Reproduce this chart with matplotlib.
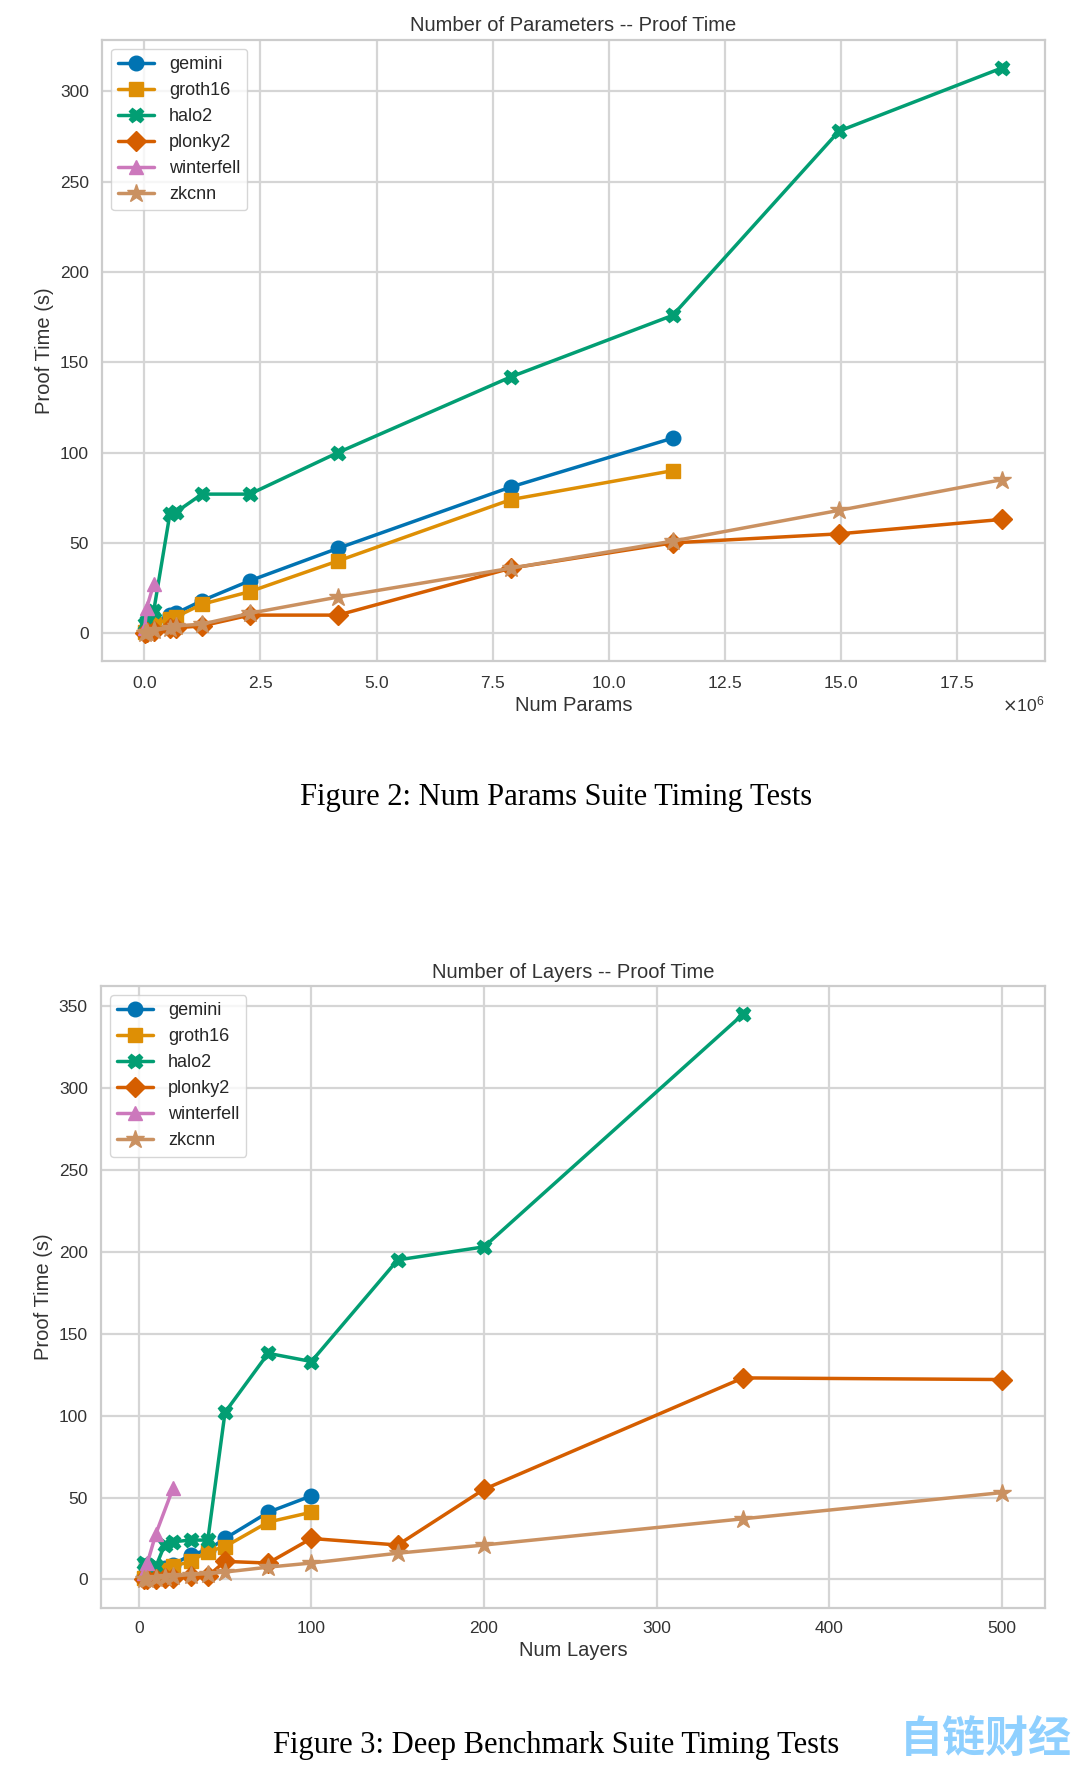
import numpy as np
import matplotlib
matplotlib.use("Agg")
import matplotlib.pyplot as plt
import seaborn as sns

# Num Params suite (x in millions of params)
params = [0.01, 0.05, 0.2, 0.55, 0.68, 1.24, 2.27, 4.17, 7.9, 11.38, 14.96, 18.47]
p_gemini = [1, 3, 6, 10, 11, 18, 29, 47, 81, 108]
p_groth16 = [0.5, 2, 5, 8, 9, 16, 23, 40, 74, 90]
p_halo2 = [5, 7, 12, 66, 67, 77, 77, 100, 142, 176, 278, 313]
p_plonky2 = [0, 0.5, 1, 3, 3, 4, 10, 10, 36, 50, 55, 63]
p_winterfell = [3, 14, 27]
p_zkcnn = [0, 0.5, 1.5, 3, 4, 5, 11, 20, 36, 51, 68, 85]

# Deep benchmark suite
layers = [3, 5, 10, 15, 20, 30, 40, 50, 75, 100, 150, 200, 350, 500]
l_gemini = [2, 3, 5, 7, 9, 15, 18, 25, 41, 51]
l_groth16 = [1, 2, 4, 6, 8, 11, 17, 20, 35, 41]
l_halo2 = [10, 9, 8, 21, 23, 24, 24, 102, 138, 133, 195, 203, 345]
l_plonky2 = [0, 0, 0, 1, 1, 2, 2, 11, 10, 25, 21, 55, 123, 122]
l_winterfell = [4, 10, 28, 56]
l_winterfell_x = [3, 5, 10, 20]
l_zkcnn = [0, 0.5, 1, 1.5, 2, 3, 3.5, 4.5, 7.5, 10, 16, 21, 37, 53]

names = ['gemini', 'groth16', 'halo2', 'plonky2', 'winterfell', 'zkcnn']
markers = ['o', 's', 'X', 'D', '^', '*']

sns.set_theme(style="whitegrid")
plt.rcParams['font.family'] = ['Liberation Sans', 'DejaVu Sans']
colors = sns.color_palette("colorblind")

fig = plt.figure(figsize=(10.8, 17.79), dpi=100)
ax1 = fig.add_axes([0.0944, 0.6282, 0.873, 0.3495])
ax2 = fig.add_axes([0.0935, 0.0963, 0.874, 0.3495])

x1 = np.array(params) * 1e6
series1 = [(x1[:len(p_gemini)], p_gemini), (x1[:len(p_groth16)], p_groth16),
           (x1, p_halo2), (x1, p_plonky2),
           (x1[:len(p_winterfell)], p_winterfell), (x1, p_zkcnn)]
x2 = np.array(layers)
series2 = [(x2[:len(l_gemini)], l_gemini), (x2[:len(l_groth16)], l_groth16),
           (x2[:len(l_halo2)], l_halo2), (x2, l_plonky2),
           (l_winterfell_x, l_winterfell), (x2, l_zkcnn)]

for ax, series in [(ax1, series1), (ax2, series2)]:
    for i, (xs, ys) in enumerate(series):
        ms = 13.5 if markers[i] == '*' else 10.5
        ax.plot(xs, ys, marker=markers[i], color=colors[i], label=names[i],
                linewidth=2.5, markersize=ms)
    ax.tick_params(labelsize=12.5, colors='#333333')
    ax.grid(True, color='#d5d5d5', linewidth=1.6)
    for s in ax.spines.values():
        s.set_color('#cccccc')
        s.set_linewidth(1.6)
    ax.legend(loc='upper left', fontsize=13, frameon=True, edgecolor='#cccccc')

ax1.set_title("Number of Parameters -- Proof Time", fontsize=14.5, color='#333333')
ax1.set_xlabel("Num Params", fontsize=14.5, color='#333333', labelpad=4)
ax1.set_ylabel("Proof Time (s)", fontsize=14.5, color='#333333')
ax1.ticklabel_format(axis='x', style='sci', scilimits=(6, 6), useMathText=True)
ax1.xaxis.get_offset_text().set_fontsize(12.5)
ax1.set_yticks([0, 50, 100, 150, 200, 250, 300])

ax2.set_title("Number of Layers -- Proof Time", fontsize=14.5, color='#333333')
ax2.set_xlabel("Num Layers", fontsize=14.5, color='#333333', labelpad=4)
ax2.set_ylabel("Proof Time (s)", fontsize=14.5, color='#333333')

fig.text(0.515, 1 - 798 / 1779, "Figure 2: Num Params Suite Timing Tests",
         ha='center', va='center', fontsize=22, family='Liberation Serif', color='black')
fig.text(0.515, 1 - 1745 / 1779, "Figure 3: Deep Benchmark Suite Timing Tests",
         ha='center', va='center', fontsize=22, family='Liberation Serif', color='black')
fig.text(0.992, 1 - 1740 / 1779, "自链财经", ha='right', va='center', fontsize=31,
         fontweight='bold', family=['Noto Sans CJK SC', 'DejaVu Sans'], color='#8fd0ff')

fig.savefig("out.png", dpi=100, facecolor='white')
